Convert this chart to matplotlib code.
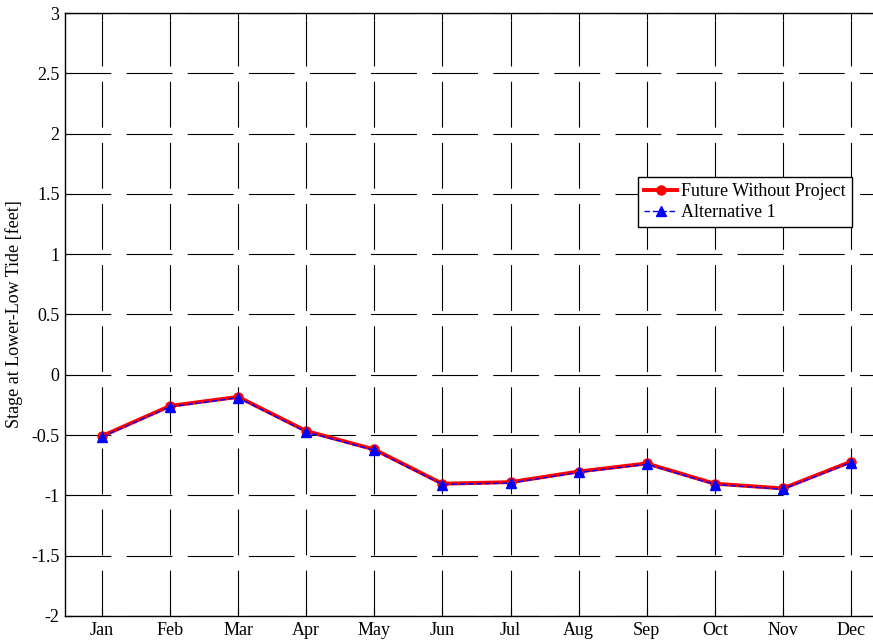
import matplotlib
matplotlib.use("Agg")
import matplotlib.pyplot as plt
from matplotlib.ticker import FuncFormatter

months = ["Jan", "Feb", "Mar", "Apr", "May", "Jun", "Jul", "Aug", "Sep", "Oct", "Nov", "Dec"]
future_without_project = [-0.508, -0.258, -0.183, -0.466, -0.619, -0.903, -0.890, -0.802, -0.735, -0.903, -0.942, -0.720]
alternative_1 = [-0.515, -0.266, -0.190, -0.474, -0.626, -0.910, -0.897, -0.810, -0.742, -0.910, -0.949, -0.728]
y_ticks = [-2, -1.5, -1, -0.5, 0, 0.5, 1, 1.5, 2, 2.5, 3]

plt.rcParams['font.family'] = ['Liberation Serif', 'DejaVu Serif']
plt.rcParams['axes.unicode_minus'] = False
plt.rcParams['lines.scale_dashes'] = False

fig = plt.figure(figsize=(8.73, 6.44), dpi=100)
ax = fig.add_axes([65/873, 28/644, 820/873, 603/644])

x = list(range(1, len(months) + 1))
ax.plot(x, future_without_project, color='red', lw=2.8, marker='o', ms=6.5,
        label='Future Without Project', zorder=3)
ax.plot(x, alternative_1, color='blue', lw=1.0, ls=(0, (4, 2)), marker='^', ms=6.5,
        label='Alternative 1', zorder=4)

ax.set_xlim(0.457, 12.5)
ax.set_ylim(-2, 3)
ax.set_xticks(x)
ax.set_xticklabels(months)
ax.set_yticks(y_ticks)
ax.yaxis.set_major_formatter(FuncFormatter(lambda v, p: '%g' % v))
ax.tick_params(direction='in', length=5, width=0.8, labelsize=13, colors='black', pad=4)
ax.tick_params(top=True, right=True)

ax.grid(True, color='black', lw=0.8, ls=(0, (33, 11)))
ax.set_axisbelow(True)
for s in ax.spines.values():
    s.set_linewidth(1.0)
    s.set_color('black')

ax.set_ylabel('Stage at Lower-Low Tide [feet]', fontsize=13, labelpad=6)

leg = ax.legend(loc='upper left', bbox_to_anchor=((638-65)/820, (616-177)/603),
                borderaxespad=0, fontsize=13, fancybox=False, framealpha=1,
                edgecolor='black', handlelength=1.8, handletextpad=0.25,
                borderpad=0.35, labelspacing=0.2)
leg.get_frame().set_linewidth(1.0)

fig.savefig('out.png', dpi=100)
